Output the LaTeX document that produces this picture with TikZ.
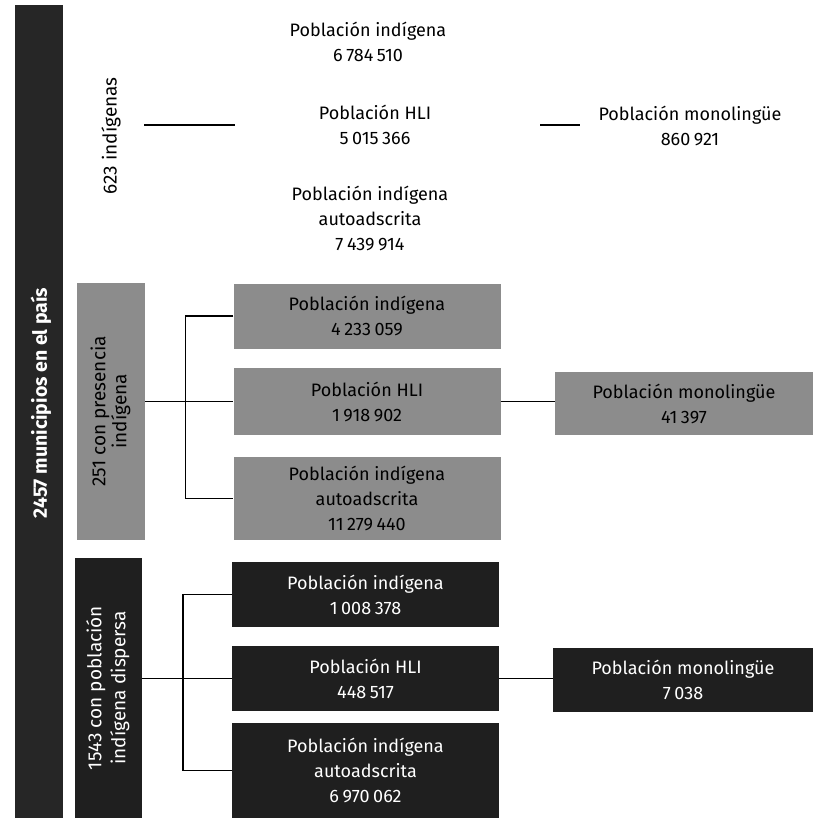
\documentclass[tikz,border=0pt]{standalone}
\usepackage{fontspec}
\setmainfont{Fira Sans}
\newcommand{\tsp}{\hspace{0.2em}}
\begin{document}
\begin{tikzpicture}[x=1pt,y=-1pt,
  every node/.style={font=\fontsize{18}{25}\selectfont, align=center, inner sep=0pt},
  rotfont/.style={font=\fontsize{19}{24}\selectfont},
  plain/.style={minimum width=267pt, minimum height=65pt},
  graybox/.style={fill=black!45, text=black, minimum width=267pt},
  darkbox/.style={fill=black!88, text=white, minimum width=267pt},
  link/.style={line width=1.4pt, black}]
\useasboundingbox (0,0) rectangle (813,818);
% left bar
\node[fill=black!85, minimum width=48pt, minimum height=813pt] (bar) at (39,411.5) {};
\node[text=white, font=\bfseries\fontsize{19.5}{22}\selectfont] (pais) at (41,403) {\rotatebox{90}{2457 municipios en el país}};
% section 1
\node[rotfont, minimum width=66pt] (g623) at (111,136) {\rotatebox{90}{623 indígenas}};
\node[plain] (ind1) at (368,42) {Población indígena\\6\tsp784\tsp510};
\node[plain, minimum width=280pt] (hli1) at (375,125) {Población HLI\\5\tsp015\tsp366};
\node[plain] (auto1) at (370,218) {Población indígena\\autoadscrita\\7\tsp439\tsp914};
\node[minimum width=220pt] (mono1) at (690,126) {Población monolingüe\\860\tsp921};
\draw[link] (g623.east |- hli1.west) -- (hli1.west);
\draw[link, shorten <=25pt] (hli1.east) -- (hli1.east -| mono1.west);
% section 2
\node[graybox, rotfont, minimum width=68pt, minimum height=257pt] (b251) at (111,411.5) {\rotatebox{90}{\begin{tabular}{@{}c@{}}251 con presencia\\[-3pt]indígena\end{tabular}}};
\node[graybox, minimum height=65pt] (ind2) at (367,316) {Población indígena\\4\tsp233\tsp059};
\node[graybox, minimum height=67pt] (hli2) at (367,401.5) {Población HLI\\1\tsp918\tsp902};
\node[graybox, minimum height=83pt] (auto2) at (367,498.5) {Población indígena\\autoadscrita\\11\tsp279\tsp440};
\node[graybox, minimum width=258pt, minimum height=63pt] (mono2) at (684,403.5) {Población monolingüe\\41\tsp397};
\draw[link] (b251.east |- hli2.west) -- (hli2.west);
\draw[link] (ind2.west) -- ++(-48,0) |- (auto2.west);
\draw[link] (hli2.east) -- (hli2.east -| mono2.west);
% section 3
\node[darkbox, rotfont, minimum width=67pt, minimum height=260pt] (b1543) at (108.5,688) {\rotatebox{90}{\begin{tabular}{@{}c@{}}1543 con población\\indígena dispersa\end{tabular}}};
\node[darkbox, minimum height=65pt] (ind3) at (365.5,594.5) {Población indígena\\1\tsp008\tsp378};
\node[darkbox, minimum height=65pt] (hli3) at (365.5,678.5) {Población HLI\\448\tsp517};
\node[darkbox, minimum height=95pt] (auto3) at (365.5,770.5) {Población indígena\\autoadscrita\\6\tsp970\tsp062};
\node[darkbox, minimum width=260pt, minimum height=64pt] (mono3) at (683,680) {Población monolingüe\\7\tsp038};
\draw[link] (b1543.east |- hli3.west) -- (hli3.west);
\draw[link] (ind3.west) -- ++(-49,0) |- (auto3.west);
\draw[link] (hli3.east) -- (hli3.east -| mono3.west);
\end{tikzpicture}
\end{document}
